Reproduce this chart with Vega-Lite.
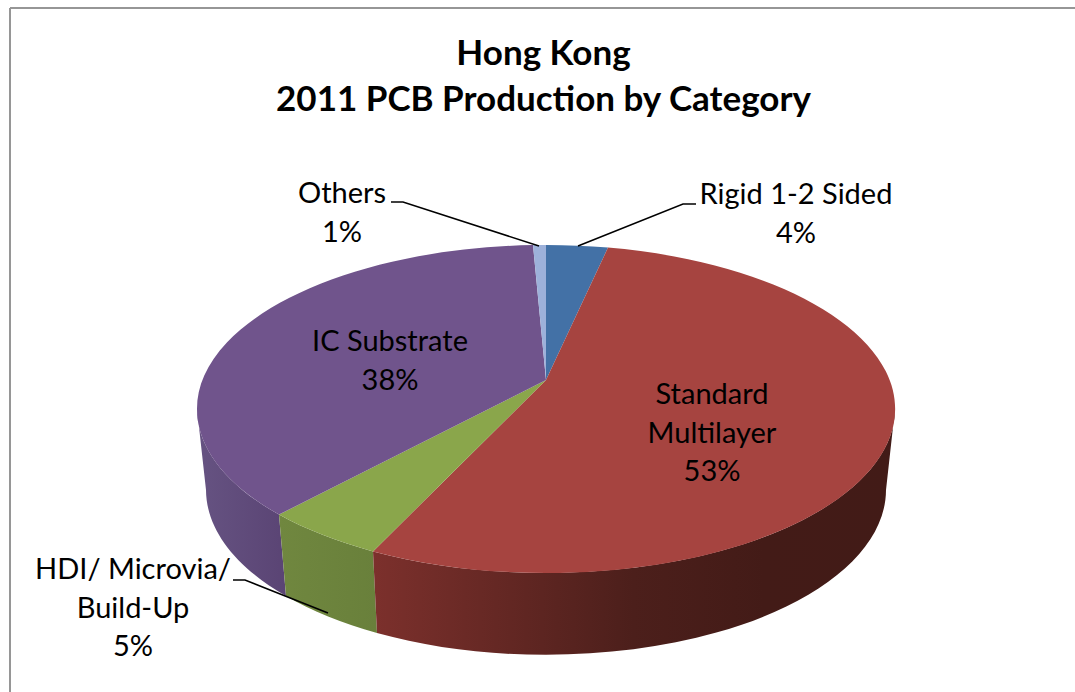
{
"$schema":"https://vega.github.io/schema/vega-lite/v6.json",
"width":1075,"height":692,"padding":0,"autosize":{"type":"none"},"background":"white",
"config":{"view":{"stroke":null},"font":"Lato","title":{"font":"Lato"}},
"title":{"text":["Hong Kong","2011 PCB Production by Category"],"font":"Lato","fontSize":35,"fontWeight":"bold","color":"#000000","anchor":"middle","frame":"group","lineHeight":46,"baseline":"top","offset":0,"dx":6,"dy":118},
"data":{"values":[
{"category":"Rigid 1-2 Sided","value":4,"label":"Rigid 1-2 Sided\n4%"},
{"category":"Standard Multilayer","value":53,"label":"Standard\nMultilayer\n53%"},
{"category":"HDI/ Microvia/ Build-Up","value":5,"label":"HDI/ Microvia/\nBuild-Up\n5%"},
{"category":"IC Substrate","value":38,"label":"IC Substrate\n38%"},
{"category":"Others","value":1,"label":"Others\n1%"}
]},
"encoding":{
"x":{"datum":546,"type":"quantitative","scale":{"domain":[0,1075],"nice":false,"zero":false},"axis":null},
"y":{"datum":380,"type":"quantitative","scale":{"domain":[692,0],"nice":false,"zero":false},"axis":null}
},
"layer":[
{"data":{"values":[{}]},"mark":{"type":"rule","stroke":"#969696","strokeWidth":2},"encoding":{"x":{"datum":10},"y":{"datum":8},"y2":{"datum":692}}},
{"data":{"values":[{}]},"mark":{"type":"rule","stroke":"#969696","strokeWidth":2},"encoding":{"x":{"datum":10},"x2":{"datum":1075},"y":{"datum":8}}},
{"transform":[{"filter":"datum.category==='IC Substrate'"}],
 "mark":{"type":"point","filled":true,"opacity":1,"size":4,"shape":"M-349 29 A349 164 0 0 0 -267 134.6 L-260 216 A340 165 0 0 1 -340 110 Z",
 "fill":{"gradient":"linear","x1":0,"y1":0,"x2":1,"y2":0,"stops":[{"offset":0,"color":"#665382"},{"offset":1,"color":"#5a4474"}]}}},
{"transform":[{"filter":"datum.category==='HDI/ Microvia/ Build-Up'"}],
 "mark":{"type":"point","filled":true,"opacity":1,"size":4,"shape":"M-267 134.6 A349 164 0 0 0 -173 171.4 L-169 253 A340 165 0 0 1 -260 216 Z",
 "fill":{"gradient":"linear","x1":0,"y1":0,"x2":1,"y2":0,"stops":[{"offset":0,"color":"#70873f"},{"offset":1,"color":"#69803b"}]}}},
{"transform":[{"filter":"datum.category==='Standard Multilayer'"}],
 "mark":{"type":"point","filled":true,"opacity":1,"size":4,"shape":"M-173 171.4 A349 164 0 0 0 349 29 L340 110 A340 165 0 0 1 -169 253 Z",
 "fill":{"gradient":"linear","x1":0,"y1":0,"x2":1,"y2":0,"stops":[{"offset":0,"color":"#7c302c"},{"offset":0.5,"color":"#4c1f1b"},{"offset":0.75,"color":"#431b17"},{"offset":1,"color":"#421b17"}]}}},
{"mark":{"type":"point","filled":true,"opacity":1,"size":4},
 "encoding":{
 "shape":{"field":"category","type":"nominal","legend":null,"scale":{"domain":["Rigid 1-2 Sided","Standard Multilayer","HDI/ Microvia/ Build-Up","IC Substrate","Others"],
  "range":["M0 0 L0 -135 A349 164 0 0 1 62 -132.4 Z","M0 0 L62 -132.4 A349 164 0 1 1 -173 171.4 Z","M0 0 L-173 171.4 A349 164 0 0 1 -267 134.6 Z","M0 0 L-267 134.6 A349 164 0 0 1 -13 -134.9 Z","M0 0 L-13 -134.9 A349 164 0 0 1 0 -135 Z"]}},
 "color":{"field":"category","type":"nominal","legend":null,"scale":{"domain":["Rigid 1-2 Sided","Standard Multilayer","HDI/ Microvia/ Build-Up","IC Substrate","Others"],
  "range":["#4371a6","#a64440","#8aa64b","#70548c","#9db1da"]}}}},
{"transform":[{"filter":"datum.category==='Others'"}],"mark":{"type":"point","filled":false,"fill":null,"stroke":"#000000","strokeWidth":1.5,"opacity":1,"size":4,"shape":"M-155 -178 L-143 -178 L-7 -134"}},
{"transform":[{"filter":"datum.category==='Rigid 1-2 Sided'"}],"mark":{"type":"point","filled":false,"fill":null,"stroke":"#000000","strokeWidth":1.5,"opacity":1,"size":4,"shape":"M150 -176 L137 -176 L32 -134"}},
{"transform":[{"filter":"datum.category==='HDI/ Microvia/ Build-Up'"}],"mark":{"type":"point","filled":false,"fill":null,"stroke":"#000000","strokeWidth":1.5,"opacity":1,"size":4,"shape":"M-313 200 L-301 200 L-218 233"}},
{"transform":[{"filter":"datum.category==='Others'"}],"mark":{"type":"text","font":"Lato","fontSize":29,"lineBreak":"\n","lineHeight":38.5,"align":"center","baseline":"middle","color":"#000000"},"encoding":{"x":{"datum":342},"y":{"datum":194},"text":{"field":"label"}}},
{"transform":[{"filter":"datum.category==='Rigid 1-2 Sided'"}],"mark":{"type":"text","font":"Lato","fontSize":29,"lineBreak":"\n","lineHeight":38.5,"align":"center","baseline":"middle","color":"#000000"},"encoding":{"x":{"datum":796},"y":{"datum":195},"text":{"field":"label"}}},
{"transform":[{"filter":"datum.category==='IC Substrate'"}],"mark":{"type":"text","font":"Lato","fontSize":29,"lineBreak":"\n","lineHeight":38.5,"align":"center","baseline":"middle","color":"#000000"},"encoding":{"x":{"datum":390},"y":{"datum":342},"text":{"field":"label"}}},
{"transform":[{"filter":"datum.category==='Standard Multilayer'"}],"mark":{"type":"text","font":"Lato","fontSize":29,"lineBreak":"\n","lineHeight":38.5,"align":"center","baseline":"middle","color":"#000000"},"encoding":{"x":{"datum":712},"y":{"datum":395},"text":{"field":"label"}}},
{"transform":[{"filter":"datum.category==='HDI/ Microvia/ Build-Up'"}],"mark":{"type":"text","font":"Lato","fontSize":29,"lineBreak":"\n","lineHeight":38.5,"align":"center","baseline":"middle","color":"#000000"},"encoding":{"x":{"datum":133},"y":{"datum":570},"text":{"field":"label"}}}
]
}
